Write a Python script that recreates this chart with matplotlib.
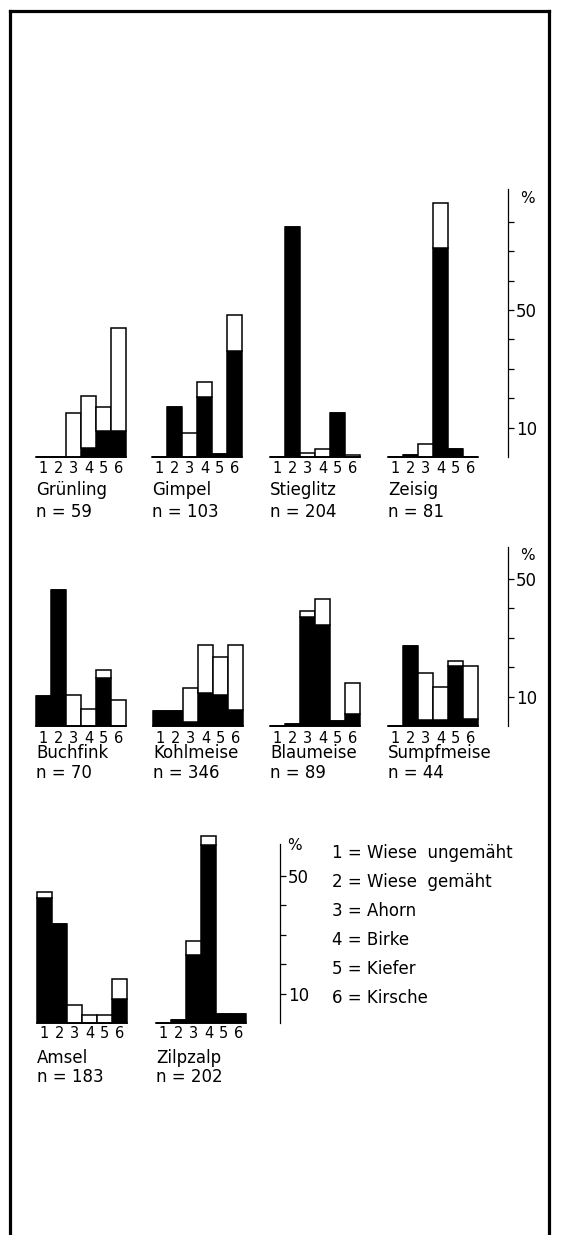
import numpy as np
import matplotlib.pyplot as plt

# data: percentages per site (1-6), total bar height and the black part
arten = ["Grünling", "Gimpel", "Stieglitz", "Zeisig",
         "Buchfink", "Kohlmeise", "Blaumeise", "Sumpfmeise",
         "Amsel", "Zilpzalp"]
n_werte = [59, 103, 204, 81, 70, 346, 89, 44, 183, 202]
gesamt = [
    [0, 0, 15.0, 20.6, 16.9, 44.0],
    [0, 16.9, 8.3, 25.5, 1.1, 48.4],
    [0, 78.2, 1.5, 2.7, 15.0, 0.6],
    [0, 0.8, 4.5, 86.4, 2.7, 0],
    [10.1, 46.4, 10.7, 5.9, 19.0, 8.9],
    [5.1, 5.1, 12.8, 27.4, 23.3, 27.4],
    [0, 0.8, 39.1, 43.1, 1.7, 14.7],
    [0, 27.1, 17.9, 13.4, 22.1, 20.5],
    [44.4, 33.7, 6.2, 2.6, 2.8, 15.0],
    [0, 1.0, 28.0, 63.7, 3.1, 3.1],
]
schwarz = [
    [0, 0, 0, 3.1, 8.8, 8.8],
    [0, 16.9, 0, 20.3, 1.1, 36.2],
    [0, 78.2, 0, 0, 15.0, 0],
    [0, 0.8, 0, 71.2, 2.7, 0],
    [10.1, 46.4, 0, 0, 16.4, 0],
    [5.1, 5.1, 1.4, 11.3, 10.4, 5.4],
    [0, 0.8, 37.1, 34.2, 1.7, 4.2],
    [0, 27.1, 2.0, 2.0, 20.5, 2.5],
    [42.5, 33.7, 0, 0, 0, 8.3],
    [0, 1.0, 23.0, 60.6, 3.1, 3.1],
]
standorte = ["Wiese  ungemäht", "Wiese  gemäht", "Ahorn", "Birke", "Kiefer", "Kirsche"]
pos = np.arange(1, 7)

W, H = 561, 1235
PX = 2.94      # pixels per percent
YMAX = 92

plt.rcParams['font.family'] = ['DejaVu Sans']
fig = plt.figure(figsize=(W / 100, H / 100), dpi=100)


def px_axes(left, baseline, width):
    return fig.add_axes([left / W, 1 - baseline / H, width / W, YMAX * PX / H])


# outer frame (open at the bottom)
frame = fig.add_axes([9.5 / W, -0.05, (549 - 9.5) / W, 1.05 - 11 / H])
frame.set_xticks([])
frame.set_yticks([])
frame.set_facecolor('none')
frame.spines['bottom'].set_visible(False)
for s in ['top', 'left', 'right']:
    frame.spines[s].set_linewidth(2.3)

# rows: baseline, panel lefts, tick pad, name/n offsets (px below baseline)
rows = [
    (457, [36, 152, 270, 388], 3.2, 38, 60),
    (726, [36, 153, 270, 388], 3.7, 32, 52),
    (1023, [37, 156], 2.3, 40, 59),
]

k = 0
for base, lefts, pad, off_name, off_n in rows:
    for left in lefts:
        ax = px_axes(left, base, 90)
        ax.set_xlim(0.5, 6.5)
        ax.set_ylim(0, YMAX)
        ax.set_facecolor('none')
        for s in ax.spines.values():
            s.set_visible(False)
        ax.set_yticks([])
        ax.bar(pos, schwarz[k], width=1, color='black', edgecolor='black',
               linewidth=1.1, clip_on=False)
        weiss = np.array(gesamt[k]) - np.array(schwarz[k])
        ax.bar(pos, weiss, bottom=schwarz[k], width=1, facecolor='white',
               edgecolor='black', linewidth=1.1, clip_on=False)
        ax.axhline(0, color='black', linewidth=1.2, clip_on=False)
        ax.set_xticks(pos)
        ax.set_xticklabels([str(p) for p in pos], fontsize=10.5)
        ax.tick_params(axis='x', length=0, pad=pad)
        ax.annotate(arten[k], xy=(0, 0), xycoords='axes fraction',
                    xytext=(0, -off_name * 0.72), textcoords='offset points',
                    ha='left', va='baseline', fontsize=12)
        ax.annotate(f"n = {n_werte[k]}", xy=(0, 0), xycoords='axes fraction',
                    xytext=(0, -off_n * 0.72), textcoords='offset points',
                    ha='left', va='baseline', fontsize=12)
        k += 1

# percent scales
scales = [
    (508, 457, 91, np.arange(10, 90, 10), (12, 9)),
    (508, 726, 61, np.arange(10, 60, 10), (12, 9)),
    (280, 1023, 61, np.arange(10, 60, 10), (7, 2)),
]
for x, base, top, ticks, pct_off in scales:
    sa = px_axes(x - 1, base, 1)
    sa.set_ylim(0, YMAX)
    sa.set_facecolor('none')
    for s in ['top', 'left', 'bottom']:
        sa.spines[s].set_visible(False)
    sa.spines['right'].set_bounds(0, top)
    sa.spines['right'].set_linewidth(0.9)
    sa.set_xticks([])
    sa.yaxis.tick_right()
    sa.set_yticks(ticks)
    sa.set_yticklabels(['10' if t == 10 else '50' if t == 50 else '' for t in ticks],
                       fontsize=12)
    sa.tick_params(axis='y', direction='out', length=4, width=0.9, pad=1.5)
    sa.annotate('%', xy=(1, top), xycoords=('axes fraction', 'data'),
                xytext=(pct_off[0] * 0.72, -pct_off[1] * 0.72),
                textcoords='offset points', ha='left', va='center', fontsize=11)

# legend for the sites
for i, name in enumerate(standorte):
    fig.text(332 / W, 1 - (853 + i * 29) / H, f"{i + 1} = {name}",
             ha='left', va='center', fontsize=12)

fig.savefig('out.png', dpi=100)
